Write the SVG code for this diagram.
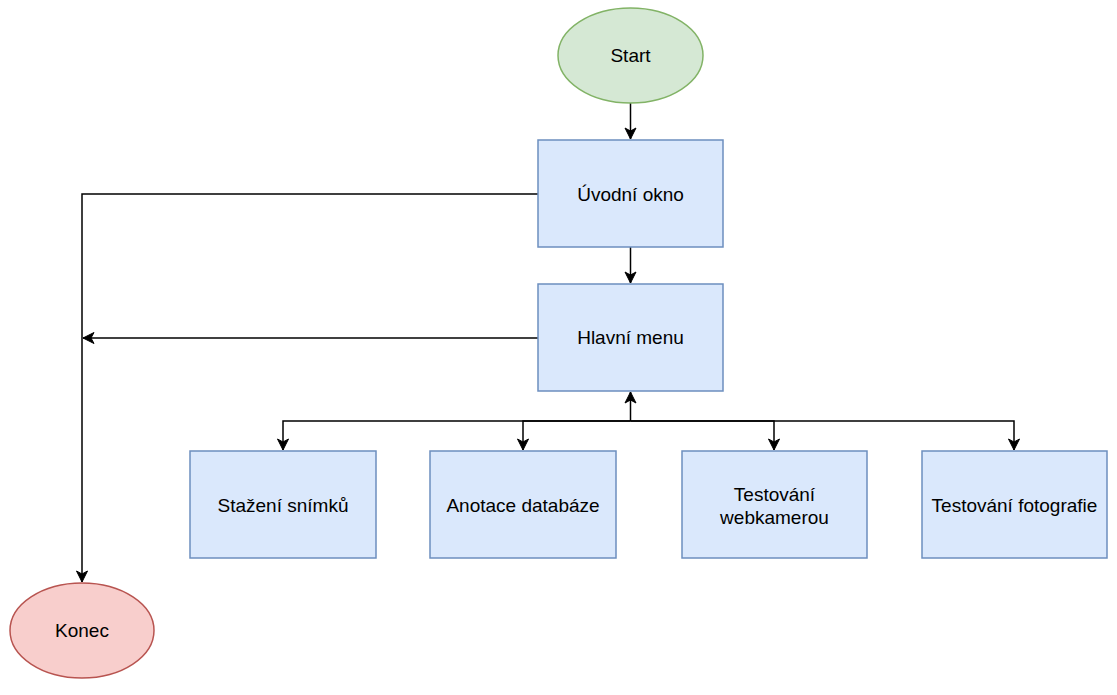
<svg xmlns="http://www.w3.org/2000/svg" width="1117" height="695" viewBox="0 0 1117 695">
<style>
.box{fill:#dae8fc;stroke:#6c8ebf;stroke-width:1.5}
.t{font-family:"Liberation Sans",Arial,sans-serif;font-size:19px;fill:#000;text-anchor:middle;dominant-baseline:central}
.c{fill:none;stroke:#000;stroke-width:1.5}
</style>
<defs>
<marker id="ah" markerUnits="userSpaceOnUse" markerWidth="14" markerHeight="14" viewBox="0 0 14 14" refX="12" refY="7" orient="auto">
<path d="M1,1.5 L12,7 L1,12.5 L4,7 Z" fill="#000" stroke="#000" stroke-width="1"/>
</marker>
</defs>
<rect width="1117" height="695" fill="#fff"/>
<g id="connectors">
<path class="c" d="M630.5,103 V139" marker-end="url(#ah)"/>
<path class="c" d="M630.5,247 V283" marker-end="url(#ah)"/>
<path class="c" d="M538,194 H82 V582" marker-end="url(#ah)"/>
<path class="c" d="M538,338 H83" marker-end="url(#ah)"/>
<path class="c" d="M630.5,421 V392" marker-end="url(#ah)"/>
<path class="c" d="M630.5,421 H283 V450" marker-end="url(#ah)"/>
<path class="c" d="M630.5,421 H523 V450" marker-end="url(#ah)"/>
<path class="c" d="M630.5,421 H774 V450" marker-end="url(#ah)"/>
<path class="c" d="M630.5,421 H1014 V450" marker-end="url(#ah)"/>
</g>
<g id="start">
<ellipse cx="630.5" cy="55.5" rx="72.5" ry="47.5" fill="#d5e8d4" stroke="#82b366" stroke-width="1.5"/>
<text class="t" x="630.5" y="55">Start</text>
</g>
<g id="uvodni">
<rect class="box" x="538" y="140" width="185" height="107"/>
<text class="t" x="630.5" y="194">Úvodní okno</text>
</g>
<g id="menu">
<rect class="box" x="538" y="284" width="185" height="107"/>
<text class="t" x="630.5" y="337">Hlavní menu</text>
</g>
<g id="stazeni">
<rect class="box" x="190" y="451" width="186" height="107"/>
<text class="t" x="283" y="505">Stažení snímků</text>
</g>
<g id="anotace">
<rect class="box" x="430" y="451" width="186" height="107"/>
<text class="t" x="523" y="505">Anotace databáze</text>
</g>
<g id="webkamera">
<rect class="box" x="682" y="451" width="185" height="107"/>
<text class="t" x="774.5" y="494">Testování</text>
<text class="t" x="774.5" y="517">webkamerou</text>
</g>
<g id="fotografie">
<rect class="box" x="922" y="451" width="185" height="107"/>
<text class="t" x="1014.5" y="505">Testování fotografie</text>
</g>
<g id="konec">
<ellipse cx="82" cy="630.5" rx="72" ry="47.5" fill="#f8cecc" stroke="#b85450" stroke-width="1.5"/>
<text class="t" x="82" y="630">Konec</text>
</g>
</svg>
